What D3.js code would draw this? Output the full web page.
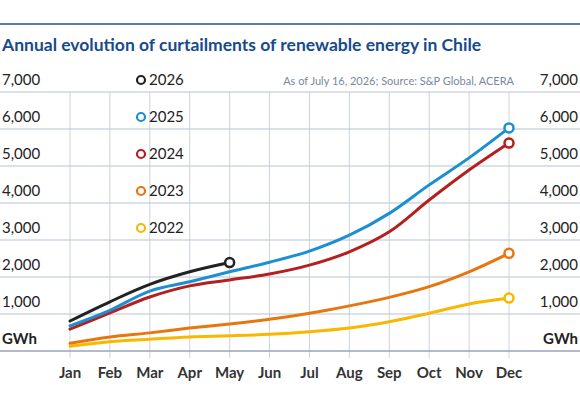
<!DOCTYPE html>
<html><head><meta charset="utf-8">
<script src="https://cdn.jsdelivr.net/npm/d3@7"></script>
<style>body{margin:0;background:#fff;font-family:Lato,"Noto Sans",sans-serif;}</style>
</head><body><div id="chart"></div>
<script>
const months = ["Jan","Feb","Mar","Apr","May","Jun","Jul","Aug","Sep","Oct","Nov","Dec"];
const yTicks = [1000,2000,3000,4000,5000,6000,7000];
const years = ["2026","2025","2024","2023","2022"];
const colors = ["#222222","#1b8fd2","#b5201f","#e8760f","#f9b700"];
const v2026 = [810,1330,1800,2140,2390];
const v2025 = [680,1100,1620,1870,2140,2400,2700,3130,3720,4490,5220,6030];
const v2024 = [590,1030,1460,1760,1920,2080,2320,2680,3220,4080,4890,5620];
const v2023 = [210,380,490,620,730,860,1020,1220,1450,1740,2140,2640];
const v2022 = [130,250,320,380,410,450,520,620,790,1020,1270,1430];
const series = [v2026,v2025,v2024,v2023,v2022];

const W = 580, H = 402;
const svg = d3.select("#chart").append("svg").attr("width", W).attr("height", H);

// Top rule and title
svg.append("line").attr("x1",0).attr("x2",W).attr("y1",24).attr("y2",24)
    .attr("stroke","#1d4f91").attr("stroke-width",1.5);
svg.append("text").attr("x",2).attr("y",51).attr("fill","#174a8c").attr("font-weight","bold")
    .attr("font-size",17.5).text("Annual evolution of curtailments of renewable energy in Chile");

const x = d3.scalePoint().domain(months).range([70,509]);
const y = d3.scaleLinear().domain([0,7000]).range([351,92]);

// Vertical grid
svg.selectAll(".vgrid").data(months).enter().append("line")
    .attr("x1",d=>x(d)).attr("x2",d=>x(d)).attr("y1",y(7000)).attr("y2",358)
    .attr("stroke","#cdd3de").attr("stroke-width",1);

// Horizontal grid + labels
svg.selectAll(".hgrid").data(yTicks).enter().append("line")
    .attr("x1",0).attr("x2",W).attr("y1",d=>y(d)).attr("y2",d=>y(d))
    .attr("stroke","#b9c2d2").attr("stroke-width",1);
svg.append("line").attr("x1",0).attr("x2",W).attr("y1",y(0)).attr("y2",y(0))
    .attr("stroke","#9aa5b8").attr("stroke-width",1.5);
const fmt = d3.format(",");
svg.selectAll(".ylab").data(yTicks).enter().append("text")
    .attr("x",2).attr("y",d=>y(d)-7).attr("font-size",15).attr("fill","#222").text(d=>fmt(d));
svg.selectAll(".ylabr").data(yTicks).enter().append("text")
    .attr("x",578).attr("y",d=>y(d)-7).attr("text-anchor","end").attr("font-size",15).attr("fill","#222").text(d=>fmt(d));
svg.append("text").attr("x",2).attr("y",y(0)-7).attr("font-size",15).attr("font-weight","bold").attr("fill","#222").text("GWh");
svg.append("text").attr("x",578).attr("y",y(0)-7).attr("text-anchor","end").attr("font-size",15).attr("font-weight","bold").attr("fill","#222").text("GWh");

// Month labels
svg.selectAll(".xlab").data(months).enter().append("text")
    .attr("x",d=>x(d)).attr("y",378).attr("text-anchor","middle").attr("font-size",15)
    .attr("font-weight","bold").attr("fill","#333").text(d=>d);

// Source
svg.append("text").attr("x",514).attr("y",y(7000)-7).attr("text-anchor","end")
    .attr("font-size",11).attr("fill","#7a889e").text("As of July 16, 2026; Source: S&P Global, ACERA");

// Lines (draw oldest first)
const line = d3.line().x((d,i)=>x(months[i])).y(d=>y(d)).curve(d3.curveCatmullRom.alpha(0.5));
for (let k = series.length-1; k >= 0; k--) {
    const s = series[k];
    svg.append("path").attr("d",line(s)).attr("fill","none")
        .attr("stroke",colors[k]).attr("stroke-width",3).attr("stroke-linecap","round");
    svg.append("circle").attr("cx",x(months[s.length-1])).attr("cy",y(s[s.length-1]))
        .attr("r",4.5).attr("fill","#fff").attr("stroke",colors[k]).attr("stroke-width",2.5);
}

// Legend
years.forEach((yr,i)=>{
    const ly = y(7000 - i*1000) - 12;
    svg.append("circle").attr("cx",141).attr("cy",ly).attr("r",4)
        .attr("fill","#fff").attr("stroke",colors[i]).attr("stroke-width",2.2);
    svg.append("text").attr("x",149).attr("y",ly+5).attr("font-size",15).attr("fill","#222").text(yr);
});
</script></body></html>
